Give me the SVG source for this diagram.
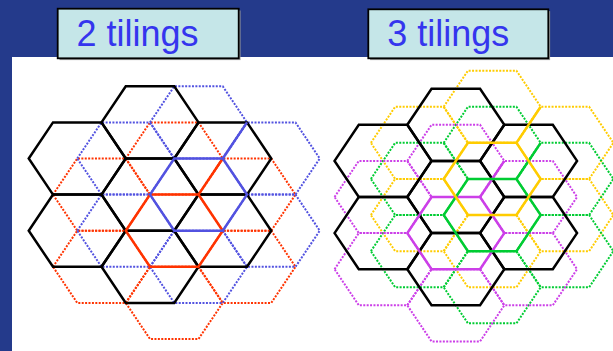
<svg xmlns="http://www.w3.org/2000/svg" xmlns:xlink="http://www.w3.org/1999/xlink" width="613" height="351" viewBox="0 0 613 351">
<style>
.bg{fill:#243a8b}
.paper{fill:#ffffff}
.lblbox{fill:#c5e6e8;stroke:#000;stroke-width:1.8}
.lblshadow{fill:#9a9a9a}
.lbl{font-family:"Liberation Sans",Arial,sans-serif;font-size:36px;fill:#3535ee}
.hex{fill:none;stroke-linejoin:miter}
.blk{stroke:#000;stroke-width:2.5}
.dot{stroke-width:2;stroke-dasharray:2 1.4}
.sol{stroke-width:2.5}
.red{stroke:#ff3300}
.blu{stroke:#5252e0}
.yel{stroke:#ffcc00}
.grn{stroke:#00cc33}
.mag{stroke:#cc3fe8}
</style>
<defs>
<polygon id="hex" points="-48.5,0 -24.25,-36.1 24.25,-36.1 48.5,0 24.25,36.1 -24.25,36.1"/>
</defs>
<rect class="bg" x="0" y="0" width="613" height="351"/>
<rect class="paper" x="12" y="57" width="601" height="294"/>

<g id="label-2">
<rect class="lblshadow" x="59.5" y="10.5" width="181" height="49.6"/>
<rect class="lblbox" x="57.7" y="8.7" width="181" height="49.6"/>
<text class="lbl" x="76.5" y="46">2 tilings</text>
</g>
<g id="label-3">
<rect class="lblshadow" x="370.1" y="11.1" width="180" height="49"/>
<rect class="lblbox" x="368.3" y="9.3" width="180" height="49"/>
<text class="lbl" x="387.3" y="46">3 tilings</text>
</g>

<g id="tiling2-red-dotted" class="hex red dot">
<use xlink:href="#hex" href="#hex" x="174.25" y="158.5"/>
<use xlink:href="#hex" href="#hex" x="101.5" y="194.6"/>
<use xlink:href="#hex" href="#hex" x="247" y="194.6"/>
<use xlink:href="#hex" href="#hex" x="101.5" y="266.8"/>
<use xlink:href="#hex" href="#hex" x="247" y="266.8"/>
<use xlink:href="#hex" href="#hex" x="174.25" y="302.9"/>
</g>
<g id="tiling2-blue-dotted" class="hex blu dot">
<use xlink:href="#hex" href="#hex" x="198.5" y="122.4"/>
<use xlink:href="#hex" href="#hex" x="198.5" y="266.8"/>
<use xlink:href="#hex" href="#hex" x="125.75" y="158.5"/>
<use xlink:href="#hex" href="#hex" x="125.75" y="230.7"/>
<use xlink:href="#hex" href="#hex" x="271.25" y="158.5"/>
<use xlink:href="#hex" href="#hex" x="271.25" y="230.7"/>
</g>
<g id="tiling2-black" class="hex blk">
<use xlink:href="#hex" href="#hex" x="150" y="194.6"/>
<use xlink:href="#hex" href="#hex" x="150" y="122.4"/>
<use xlink:href="#hex" href="#hex" x="150" y="266.8"/>
<use xlink:href="#hex" href="#hex" x="77.25" y="158.5"/>
<use xlink:href="#hex" href="#hex" x="77.25" y="230.7"/>
<use xlink:href="#hex" href="#hex" x="222.75" y="158.5"/>
<use xlink:href="#hex" href="#hex" x="222.75" y="230.7"/>
</g>
<g id="tiling2-red-solid" class="hex red sol">
<use xlink:href="#hex" href="#hex" x="174.25" y="230.7"/>
<line x1="198.5" y1="194.6" x2="222.75" y2="158.5"/>
</g>
<g id="tiling2-blue-solid" class="hex blu sol">
<use xlink:href="#hex" href="#hex" x="198.5" y="194.6"/>
<line x1="222.75" y1="158.5" x2="247" y2="122.4"/>
</g>

<g id="tiling3-yellow-dotted" class="hex yel dot">
<use xlink:href="#hex" href="#hex" x="492.2" y="106.75"/>
<use xlink:href="#hex" href="#hex" x="492.2" y="251.15"/>
<use xlink:href="#hex" href="#hex" x="419.4" y="142.85"/>
<use xlink:href="#hex" href="#hex" x="419.4" y="215.05"/>
<use xlink:href="#hex" href="#hex" x="564.9" y="142.85"/>
<use xlink:href="#hex" href="#hex" x="564.9" y="215.05"/>
</g>
<g id="tiling3-green-dotted" class="hex grn dot">
<use xlink:href="#hex" href="#hex" x="492.2" y="142.85"/>
<use xlink:href="#hex" href="#hex" x="492.2" y="287.25"/>
<use xlink:href="#hex" href="#hex" x="419.4" y="178.95"/>
<use xlink:href="#hex" href="#hex" x="419.4" y="251.15"/>
<use xlink:href="#hex" href="#hex" x="564.9" y="178.95"/>
<use xlink:href="#hex" href="#hex" x="564.9" y="251.15"/>
</g>
<g id="tiling3-magenta-dotted" class="hex mag dot">
<use xlink:href="#hex" href="#hex" x="455.8" y="160.9"/>
<use xlink:href="#hex" href="#hex" x="455.8" y="305.3"/>
<use xlink:href="#hex" href="#hex" x="383.05" y="197"/>
<use xlink:href="#hex" href="#hex" x="383.05" y="269.2"/>
<use xlink:href="#hex" href="#hex" x="528.55" y="197"/>
<use xlink:href="#hex" href="#hex" x="528.55" y="269.2"/>
</g>
<g id="tiling3-black" class="hex blk">
<use xlink:href="#hex" href="#hex" x="455.8" y="197"/>
<use xlink:href="#hex" href="#hex" x="455.8" y="124.8"/>
<use xlink:href="#hex" href="#hex" x="455.8" y="269.2"/>
<use xlink:href="#hex" href="#hex" x="383.05" y="160.9"/>
<use xlink:href="#hex" href="#hex" x="383.05" y="233.1"/>
<use xlink:href="#hex" href="#hex" x="528.55" y="160.9"/>
<use xlink:href="#hex" href="#hex" x="528.55" y="233.1"/>
</g>
<g id="tiling3-magenta-solid" class="hex mag sol">
<use xlink:href="#hex" href="#hex" x="455.8" y="233.1"/>
<line x1="480.05" y1="197" x2="504.3" y2="160.9"/>
</g>
<g id="tiling3-green-solid" class="hex grn sol">
<use xlink:href="#hex" href="#hex" x="492.2" y="215.05"/>
<line x1="516.45" y1="178.95" x2="540.7" y2="142.85"/>
</g>
<g id="tiling3-yellow-solid" class="hex yel sol">
<use xlink:href="#hex" href="#hex" x="492.2" y="178.95"/>
<line x1="516.45" y1="142.85" x2="540.7" y2="106.75"/>
</g>
</svg>
